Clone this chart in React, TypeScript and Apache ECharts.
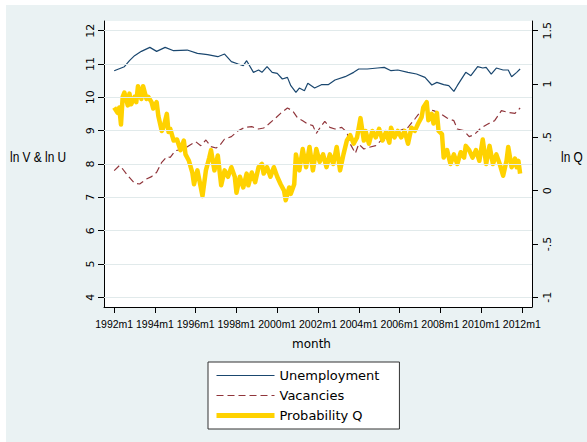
import React, { useEffect, useRef } from "react";
import * as echarts from "echarts";

// Month index: 0 = 1992m1
const unempMonths = [0, 6, 9, 12, 16, 21, 25, 30, 35, 43, 49, 55, 61, 65, 69, 73, 76, 78, 82, 85, 87, 90, 93, 96, 99, 102, 104, 107, 109, 112, 114, 118, 122, 126, 130, 136, 141, 144, 149, 155, 159, 163, 167, 173, 178, 183, 187, 190, 194, 197, 200, 202, 207, 210, 214, 217, 219, 222, 225, 229, 232, 234, 237, 239];
const unempValues = [10.8, 10.92, 11.1, 11.25, 11.38, 11.5, 11.38, 11.5, 11.4, 11.42, 11.32, 11.28, 11.22, 11.3, 11.07, 11.0, 10.95, 11.1, 10.75, 10.82, 10.75, 10.92, 10.75, 10.72, 10.55, 10.6, 10.35, 10.15, 10.28, 10.2, 10.42, 10.28, 10.38, 10.38, 10.52, 10.62, 10.75, 10.85, 10.85, 10.88, 10.9, 10.8, 10.82, 10.75, 10.7, 10.6, 10.37, 10.45, 10.38, 10.35, 10.18, 10.35, 10.75, 10.65, 10.92, 10.88, 10.9, 10.7, 10.88, 10.82, 10.82, 10.62, 10.75, 10.85];

const vacMonths = [0, 3, 5, 8, 12, 15, 19, 22, 25, 28, 31, 33, 36, 41, 44, 48, 51, 54, 57, 60, 62, 65, 69, 73, 77, 81, 85, 88, 91, 95, 98, 102, 105, 108, 111, 114, 117, 119, 122, 124, 127, 130, 134, 137, 139, 142, 144, 147, 150, 154, 157, 162, 165, 169, 173, 177, 180, 184, 188, 192, 196, 200, 202, 206, 209, 212, 216, 220, 224, 228, 232, 236, 239];
const vacValues = [7.8, 7.95, 7.85, 7.65, 7.42, 7.4, 7.55, 7.62, 7.75, 8.05, 8.22, 8.2, 8.4, 8.45, 8.55, 8.67, 8.55, 8.72, 8.52, 8.48, 8.55, 8.75, 8.82, 9.0, 9.1, 9.12, 9.05, 9.08, 9.2, 9.38, 9.52, 9.68, 9.6, 9.38, 9.3, 9.2, 9.15, 8.92, 9.15, 9.28, 9.1, 9.05, 9.1, 8.95, 8.6, 8.32, 8.6, 8.45, 8.5, 8.55, 8.7, 8.75, 8.9, 9.02, 9.1, 9.35, 9.55, 9.65, 9.6, 9.52, 9.38, 9.3, 9.05, 9.0, 8.82, 8.88, 9.08, 9.2, 9.3, 9.6, 9.55, 9.52, 9.68];

const qMonths = [0, 2, 3, 4, 5, 6, 8, 9, 10, 12, 13, 14, 16, 17, 19, 20, 22, 23, 25, 26, 28, 29, 31, 32, 33, 35, 37, 39, 41, 42, 44, 46, 47, 49, 50, 52, 54, 56, 57, 59, 61, 63, 65, 67, 69, 71, 72, 74, 76, 78, 79, 81, 83, 85, 87, 88, 90, 92, 94, 96, 98, 100, 101, 103, 104, 106, 107, 109, 111, 113, 115, 117, 119, 121, 123, 125, 127, 129, 131, 133, 135, 137, 139, 141, 143, 145, 147, 148, 150, 152, 154, 156, 158, 160, 162, 163, 165, 167, 169, 171, 173, 175, 177, 179, 181, 182, 184, 185, 187, 188, 190, 191, 193, 194, 196, 198, 200, 202, 204, 206, 207, 209, 211, 213, 215, 217, 219, 221, 223, 225, 227, 229, 231, 232, 234, 236, 237, 238, 239];
const qValues = [0.78, 0.73, 0.78, 0.62, 0.88, 0.92, 0.8, 0.91, 0.81, 0.88, 0.83, 0.98, 0.86, 0.98, 0.86, 0.88, 0.83, 0.77, 0.83, 0.7, 0.56, 0.59, 0.72, 0.55, 0.58, 0.47, 0.48, 0.38, 0.47, 0.34, 0.28, 0.17, 0.06, 0.19, 0.11, -0.05, 0.19, 0.31, 0.38, 0.19, 0.33, 0.05, 0.19, 0.13, 0.22, 0.13, -0.02, 0.13, 0.03, 0.16, 0.05, 0.17, 0.08, 0.22, 0.25, 0.16, 0.22, 0.13, 0.22, 0.13, 0.06, 0.0, -0.09, 0.03, -0.03, 0.06, 0.34, 0.19, 0.39, 0.22, 0.41, 0.19, 0.39, 0.27, 0.34, 0.22, 0.34, 0.25, 0.41, 0.19, 0.34, 0.47, 0.52, 0.44, 0.5, 0.68, 0.47, 0.56, 0.44, 0.56, 0.5, 0.58, 0.47, 0.55, 0.45, 0.59, 0.5, 0.56, 0.5, 0.56, 0.44, 0.59, 0.56, 0.63, 0.69, 0.78, 0.83, 0.66, 0.72, 0.63, 0.73, 0.56, 0.53, 0.31, 0.38, 0.25, 0.34, 0.25, 0.36, 0.31, 0.42, 0.38, 0.31, 0.38, 0.28, 0.48, 0.25, 0.42, 0.25, 0.34, 0.25, 0.14, 0.28, 0.41, 0.22, 0.3, 0.22, 0.28, 0.16];

const xTickMonths = [0, 24, 48, 72, 96, 120, 144, 168, 192, 216, 240];
const xTickLabels = ["1992m1", "1994m1", "1996m1", "1998m1", "2000m1", "2002m1", "2004m1", "2006m1", "2008m1", "2010m1", "2012m1"];
const leftTickValues = [4, 5, 6, 7, 8, 9, 10, 11, 12];
const leftTickLabels = ["4", "5", "6", "7", "8", "9", "10", "11", "12"];
const rightTickValues = [-1, -0.5, 0, 0.5, 1, 1.5];
const rightTickLabels = ["-1", "-.5", "0", ".5", "1", "1.5"];

const seriesNames = ["Unemployment", "Vacancies", "Probability Q"];

const zip = (a: number[], b: number[]) => a.map((m, i) => [m, b[i]]);

export default function App() {
  const ref = useRef<HTMLDivElement>(null);
  useEffect(() => {
    if (!ref.current) return;
    const chart = echarts.init(ref.current, undefined, { renderer: "svg" });
    const font = "DejaVu Sans";
    chart.setOption({
      animation: false,
      backgroundColor: "transparent",
      grid: {
        left: 104,
        right: 55,
        top: 21,
        bottom: 135,
        show: true,
        backgroundColor: "#ffffff",
        borderWidth: 0,
      },
      legend: {
        orient: "vertical",
        left: 208,
        top: 362,
        itemWidth: 58,
        itemHeight: 14,
        itemGap: 7,
        padding: [7, 20, 7, 6],
        backgroundColor: "#ffffff",
        borderColor: "#333333",
        borderWidth: 1,
        selectedMode: false,
        itemStyle: { color: "transparent", borderColor: "transparent", borderWidth: 0, opacity: 0 },
        textStyle: { fontFamily: font, fontSize: 13, color: "#000" },
        data: [
          { name: seriesNames[0], lineStyle: { width: 1.2 } },
          { name: seriesNames[1], lineStyle: { width: 1.2 } },
          { name: seriesNames[2], lineStyle: { width: 5 } },
        ],
      },
      xAxis: {
        type: "value",
        min: -6,
        max: 246,
        name: "month",
        nameLocation: "middle",
        nameGap: 31,
        nameTextStyle: { fontFamily: font, fontSize: 12, color: "#000", padding: [0, 13, 0, 0] },
        axisLine: { onZero: false, lineStyle: { color: "#000", width: 1 } },
        axisTick: { show: true, length: 6, lineStyle: { color: "#000" }, customValues: xTickMonths },
        axisLabel: {
          customValues: xTickMonths,
          showMinLabel: true,
          showMaxLabel: true,
          hideOverlap: false,
          margin: 11,
          fontFamily: "Liberation Sans",
          fontSize: 10.5,
          color: "#000",
          formatter: (v: number) => xTickLabels[xTickMonths.indexOf(v)] ?? "",
        },
        splitLine: { show: false },
      },
      yAxis: [
        {
          type: "value",
          position: "left",
          min: 3.709,
          max: 12.291,
          axisLine: { show: true, onZero: false, lineStyle: { color: "#000", width: 1 } },
          axisTick: { show: true, length: 6, lineStyle: { color: "#000" }, customValues: leftTickValues },
          axisLabel: {
            customValues: leftTickValues,
            rotate: 90,
            margin: 8,
            fontFamily: font,
            fontSize: 11,
            color: "#000",
            formatter: (v: number) => leftTickLabels[leftTickValues.indexOf(v)] ?? "",
          },
          splitLine: { show: false },
        },
        {
          type: "value",
          position: "right",
          min: -1.091,
          max: 1.591,
          axisLine: { show: true, onZero: false, lineStyle: { color: "#000", width: 1 } },
          axisTick: { show: true, length: 6, lineStyle: { color: "#000" }, customValues: rightTickValues },
          axisLabel: {
            customValues: rightTickValues,
            rotate: 90,
            margin: 10,
            fontFamily: font,
            fontSize: 11,
            color: "#000",
            formatter: (v: number) => rightTickLabels[rightTickValues.indexOf(v)] ?? "",
          },
          splitLine: { show: false },
        },
      ],
      graphic: [
        {
          type: "text",
          x: 10,
          y: 157,
          scaleX: 0.85,
          style: {
            text: "ln V & ln U",
            fontFamily: "Liberation Sans",
            fontSize: 14,
            fill: "#000",
            textAlign: "left",
            textVerticalAlign: "middle",
          },
        },
        {
          type: "text",
          x: 561,
          y: 157,
          scaleX: 0.85,
          style: {
            text: "ln Q",
            fontFamily: "Liberation Sans",
            fontSize: 14,
            fill: "#000",
            textAlign: "left",
            textVerticalAlign: "middle",
          },
        },
      ],
      series: [
        {
          name: "gridlines",
          type: "line",
          yAxisIndex: 0,
          z: 1,
          symbol: "none",
          silent: true,
          data: [],
          markLine: {
            silent: true,
            symbol: ["none", "none"],
            label: { show: false },
            lineStyle: { color: "#e1eaeb", width: 1, type: "solid" },
            data: leftTickValues.map((v) => ({ yAxis: v })),
          },
        },
        {
          name: seriesNames[0],
          type: "line",
          yAxisIndex: 0,
          z: 3,
          symbol: "none",
          data: zip(unempMonths, unempValues),
          lineStyle: { color: "#1a476f", width: 1.2 },
          itemStyle: { color: "#1a476f" },
        },
        {
          name: seriesNames[1],
          type: "line",
          yAxisIndex: 0,
          z: 3,
          symbol: "none",
          data: zip(vacMonths, vacValues),
          lineStyle: { color: "#90353b", width: 1.2, type: [7, 4] },
          itemStyle: { color: "#90353b" },
        },
        {
          name: seriesNames[2],
          type: "line",
          yAxisIndex: 1,
          z: 3,
          symbol: "none",
          data: zip(qMonths, qValues),
          lineStyle: { color: "#ffd200", width: 4.5, join: "round" },
          itemStyle: { color: "#ffd200" },
        },
      ],
    });
    return () => chart.dispose();
  }, []);

  return (
    <div style={{ position: "fixed", left: 0, top: 0, width: 587, height: 442, background: "#ffffff" }}>
      <div style={{ position: "absolute", left: 6, top: 5, width: 581, height: 437, background: "#eaf2f3" }} />
      <div ref={ref} style={{ position: "absolute", left: 0, top: 0, width: 587, height: 442 }} />
    </div>
  );
}
